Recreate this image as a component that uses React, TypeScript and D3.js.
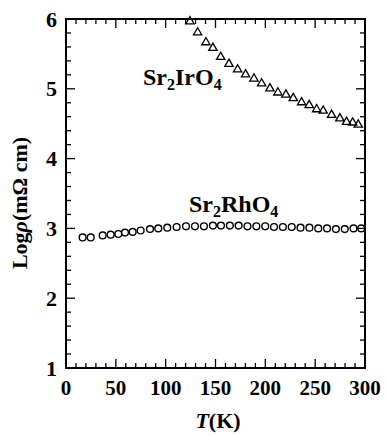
import React from "react";
import * as d3 from "d3";

const irT = [124.4, 132.1, 140.4, 147.4, 155.2, 163.5, 172.2, 180.2, 188.6, 196.3, 204.6, 212.6, 220.7, 228, 236.4, 244, 251.5, 258, 266.5, 274.8, 281.5, 287.6, 293.2];
const irV = [5.98, 5.82, 5.68, 5.6, 5.47, 5.37, 5.29, 5.22, 5.16, 5.09, 5.02, 4.96, 4.93, 4.88, 4.82, 4.78, 4.72, 4.7, 4.64, 4.59, 4.54, 4.53, 4.5];

const rhT = [16.7, 24.8, 36.8, 44.8, 52.5, 59.2, 66.9, 74.9, 84.3, 92.6, 101.6, 111, 120.4, 129.4, 138.4, 147.4, 155.5, 164.4, 173.2, 182.1, 191, 199.9, 208.7, 217.6, 226.5, 235.3, 244.2, 253.1, 261.9, 270.8, 279.7, 288.5, 296.2];
const rhV = [2.87, 2.87, 2.9, 2.91, 2.92, 2.94, 2.95, 2.97, 2.99, 3.0, 3.01, 3.02, 3.03, 3.03, 3.03, 3.04, 3.04, 3.04, 3.04, 3.03, 3.03, 3.03, 3.02, 3.02, 3.02, 3.01, 3.01, 3.0, 3.0, 2.99, 2.99, 3.0, 3.0];

const xTicks = [0, 50, 100, 150, 200, 250, 300];
const yTicks = [1, 2, 3, 4, 5, 6];

export default function App() {
  const left = 66, right = 365, top = 19, bottom = 368;
  const x = d3.scaleLinear().domain([0, 300]).range([left, right]);
  const y = d3.scaleLinear().domain([1, 6]).range([bottom, top]);
  const xMinor = d3.range(0, 301, 10);
  const yMinor = d3.range(1, 6.001, 0.2);
  const font = "'Liberation Serif', 'Times New Roman', serif";
  const tri = d3.symbol().type(d3.symbolTriangle).size(30)();
  const isMajorX = (v: number) => Math.abs(v % 50) < 1e-6;
  const isMajorY = (v: number) => Math.abs(v - Math.round(v)) < 1e-6;

  return (
    <svg width={386} height={436} style={{ position: "absolute", left: 0, top: 0, background: "#fff" }}>
      <rect x={left} y={top} width={right - left} height={bottom - top} fill="none" stroke="#000" strokeWidth={2} />
      {xMinor.map((v) => {
        const L = isMajorX(v) ? 9 : 5;
        return (
          <g key={"xt" + v}>
            <line x1={x(v)} x2={x(v)} y1={bottom} y2={bottom - L} stroke="#000" strokeWidth={1.3} />
            <line x1={x(v)} x2={x(v)} y1={top} y2={top + L} stroke="#000" strokeWidth={1.3} />
          </g>
        );
      })}
      {yMinor.map((v) => {
        const L = isMajorY(v) ? 9 : 5;
        return (
          <g key={"yt" + v}>
            <line x1={left} x2={left + L} y1={y(v)} y2={y(v)} stroke="#000" strokeWidth={1.3} />
            <line x1={right} x2={right - L} y1={y(v)} y2={y(v)} stroke="#000" strokeWidth={1.3} />
          </g>
        );
      })}
      {xTicks.map((v) => (
        <text key={"xl" + v} x={x(v)} y={395} textAnchor="middle" fontFamily={font} fontWeight="bold" fontSize={21}>
          {v}
        </text>
      ))}
      {yTicks.map((v) => (
        <text key={"yl" + v} x={57} y={y(v) + 7.5} textAnchor="end" fontFamily={font} fontWeight="bold" fontSize={22}>
          {v}
        </text>
      ))}
      {irT.map((t, i) => (
        <path key={"ir" + i} d={tri!} transform={`translate(${x(t)},${y(irV[i]) + 1})`} fill="none" stroke="#000" strokeWidth={1.3} />
      ))}
      {rhT.map((t, i) => (
        <circle key={"rh" + i} cx={x(t)} cy={y(rhV[i])} r={3.4} fill="none" stroke="#000" strokeWidth={1.4} />
      ))}
      <text x={143} y={85} fontFamily={font} fontWeight="bold" fontSize={24}>
        Sr<tspan fontSize={16} dy={5}>2</tspan><tspan dy={-5}>IrO</tspan><tspan fontSize={16} dy={5}>4</tspan>
      </text>
      <text x={189} y={212} fontFamily={font} fontWeight="bold" fontSize={24}>
        Sr<tspan fontSize={16} dy={5}>2</tspan><tspan dy={-5}>RhO</tspan><tspan fontSize={16} dy={5}>4</tspan>
      </text>
      <text transform="translate(27,203) rotate(-90)" textAnchor="middle" fontFamily={font} fontWeight="bold" fontSize={22}>
        Log<tspan fontStyle="italic">ρ</tspan>(mΩ cm)
      </text>
      <text x={218} y={428} textAnchor="middle" fontFamily={font} fontWeight="bold" fontSize={22}>
        <tspan fontStyle="italic">T</tspan>(K)
      </text>
    </svg>
  );
}
